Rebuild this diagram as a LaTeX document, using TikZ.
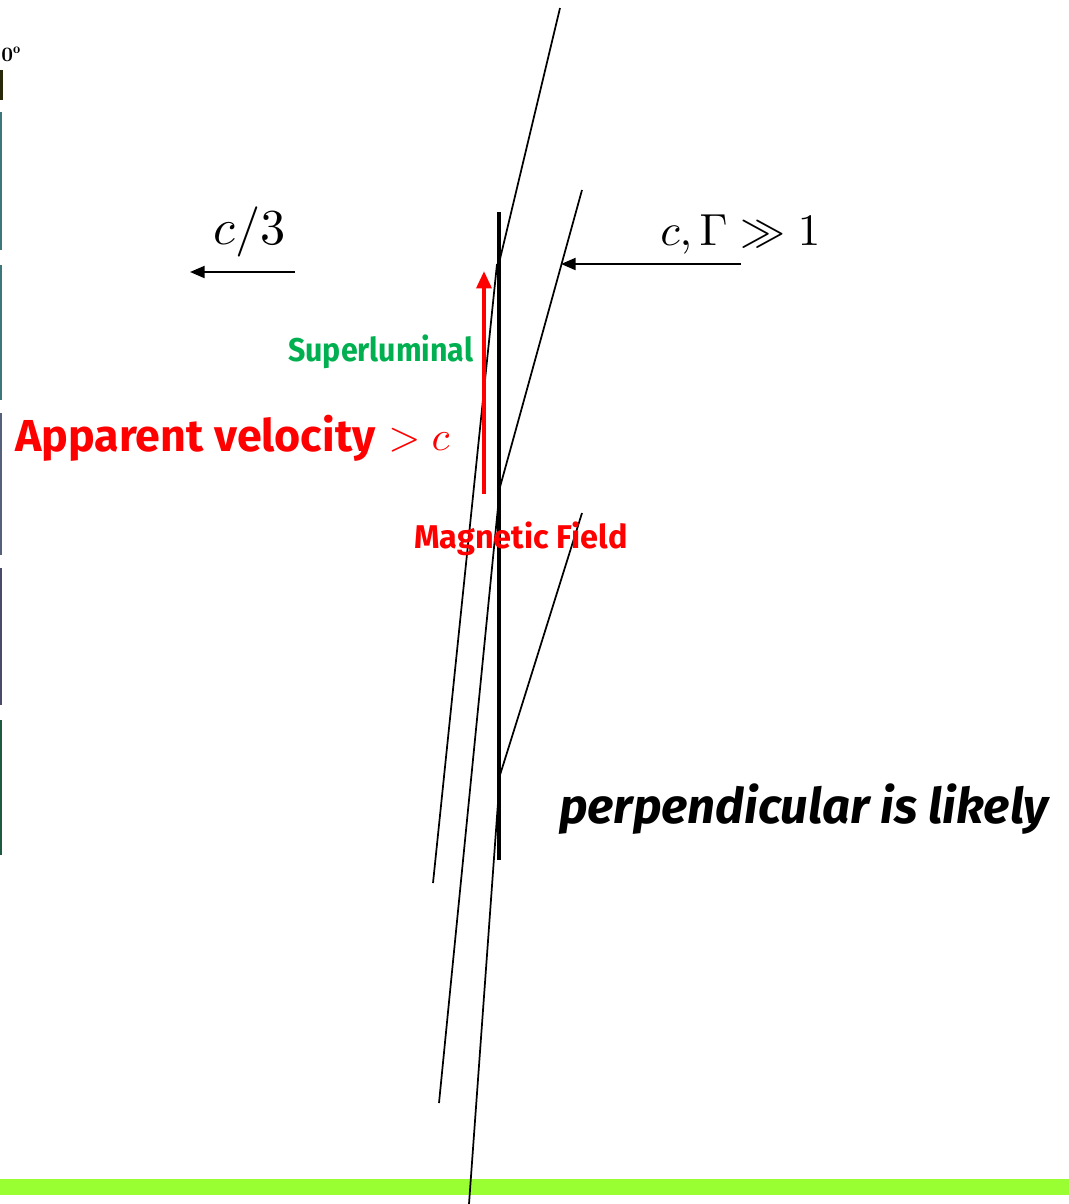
\documentclass[tikz,border=0pt]{standalone}
\usepackage{fontspec}
\usetikzlibrary{arrows.meta}
\newfontfamily\popfont{Fira Sans}
\definecolor{supergreen}{RGB}{0,176,80}
\definecolor{barlime}{RGB}{153,255,51}
\definecolor{edgeA}{RGB}{40,40,10}
\definecolor{edgeB}{RGB}{60,120,122}
\definecolor{edgeC}{RGB}{85,96,122}
\definecolor{edgeD}{RGB}{74,74,106}
\definecolor{edgeE}{RGB}{30,90,64}
\tikzset{
  fieldline/.style={line width=1.3pt, black},
  sheet/.style={line width=3.6pt, black},
  velarrow/.style={line width=1.6pt, black, -{Triangle[length=11pt,width=9pt]}},
  apparrow/.style={line width=3pt, red, -{Triangle[length=13pt,width=11pt]}},
  poplabel/.style={inner sep=0pt, anchor=base west, font=\popfont\bfseries},
  mathlabel/.style={inner sep=0pt, anchor=base west},
  edgebar/.style={draw=none}
}
\begin{document}
\begin{tikzpicture}[x=0.75pt,y=-0.75pt]
\useasboundingbox (0,0) rectangle (1069,1204);
% left-edge fragments
\fill[edgeA] (0,70) rectangle (3,100);
\fill[edgeB] (0,112) rectangle (2,250);
\fill[edgeB] (0,265) rectangle (2,400);
\fill[edgeC] (0,413) rectangle (2,555);
\fill[edgeD] (0,568) rectangle (2,705);
\fill[edgeE] (0,720) rectangle (2,855);
\node[inner sep=0pt, anchor=base west] (deg) at (1,61) {\resizebox{15pt}{!}{\bfseries 0$^{\mathbf{o}}$}};
% bottom bar
\fill[barlime] (0,1179) rectangle (1069,1195);
% coordinates for the field lines
\coordinate (a1) at (560,8);
\coordinate (a2) at (500,259);
\coordinate (b1) at (497,264);
\coordinate (b2) at (433,883);
\coordinate (c1) at (582,190);
\coordinate (c2) at (500,487);
\coordinate (d1) at (500,487);
\coordinate (d2) at (439,1103);
\coordinate (e1) at (582,513);
\coordinate (e2) at (500,775);
\coordinate (f1) at (500,775);
\coordinate (f2) at (469,1204);
\coordinate (s1) at (499,212);
\coordinate (s2) at (499,860);
\draw[fieldline] (a1) -- (a2);
\draw[fieldline] (b1) -- (b2);
\draw[fieldline] (c1) -- (c2);
\draw[fieldline] (d1) -- (d2);
\draw[fieldline] (e1) -- (e2);
\draw[fieldline] (f1) -- (f2);
\draw[sheet] (s1) -- (s2);
% velocity arrows
\coordinate (v1s) at (295,272);
\coordinate (v1e) at (190,272);
\draw[velarrow] (v1s) -- (v1e);
\coordinate (v2s) at (741,264);
\coordinate (v2e) at (561,264);
\draw[velarrow] (v2s) -- (v2e);
\node[mathlabel] (c3) at (213,244) {\resizebox{54pt}{!}{$c/3$}};
\node[mathlabel] (cG) at (660,245) {\resizebox{120pt}{!}{$c,\Gamma\gg 1$}};
% apparent motion arrow
\coordinate (r1) at (484,494);
\coordinate (r2) at (484,271);
\draw[apparrow] (r1) -- (r2);
% labels
\node[poplabel, text=supergreen] (sup) at (288,361) {\resizebox{138.75pt}{20pt}{Superluminal}};
\node[poplabel, text=red] (app) at (15,451) {\resizebox{270pt}{!}{Apparent velocity}};
\node[mathlabel, text=red] (appc) at (388,450) {\resizebox{46pt}{!}{$>c$}};
\node[poplabel, text=red] (mag) at (414,548) {\resizebox{160pt}{20pt}{Magnetic Field}};
\node[poplabel, font=\popfont\bfseries\itshape] (perp) at (559,823) {\resizebox{367pt}{!}{perpendicular is likely}};
\end{tikzpicture}
\end{document}
